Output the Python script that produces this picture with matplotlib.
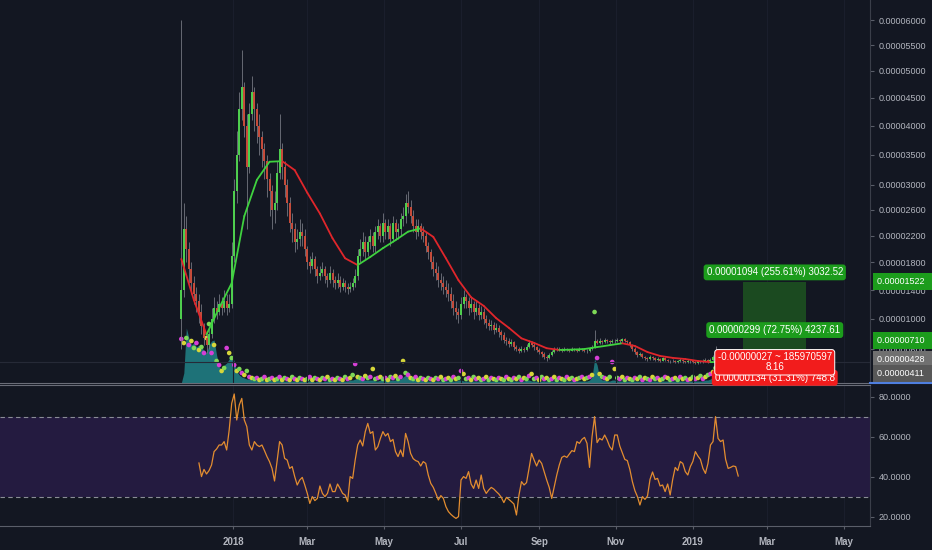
import numpy as np
import pandas as pd
import matplotlib
matplotlib.use('Agg')
import matplotlib.pyplot as plt
import matplotlib.dates as mdates
import matplotlib.transforms as mtransforms
from datetime import datetime

plt.rcParams['font.family'] = ['Liberation Sans', 'DejaVu Sans']

# prices in satoshi (1e-8 BTC), one candle = 2 days
START = '2017-11-21'
first_open = 1000

closes = [
    1400, 2300, 2000, 1700, 1500, 1350, 1250, 1100, 900, 750,
    650, 800, 1000, 1150, 1100, 1200, 1150, 1250, 1150, 1200,
    1900, 2900, 3500, 4300, 4700, 4000, 3300, 4200, 4600, 4300,
    4000, 3800, 3600, 3400, 3100, 2900, 2600, 2700, 3200, 3600,
    3300, 3000, 2700, 2400, 2300, 2100, 2150, 2250, 2200, 2000,
    1800, 1750, 1850, 1700, 1600, 1650, 1700, 1600, 1550, 1650,
    1550, 1500, 1550, 1450, 1500, 1450, 1420, 1450, 1500, 1600,
    1900, 2000, 2100, 1950, 2100, 2200, 2050, 2250, 2350, 2200,
    2400, 2250, 2350, 2150, 2400, 2250, 2300, 2450, 2500, 2700,
    2650, 2500, 2350, 2250, 2350, 2250, 2200, 2050, 1950, 1800,
    1700, 1650, 1550, 1500, 1450, 1400, 1350, 1250, 1150, 1100,
    1050, 1200, 1300, 1250, 1150, 1200, 1100, 1150, 1050, 1100,
    1000, 950, 900, 920, 850, 880, 820, 780, 720, 700,
    660, 690, 620, 600, 580, 600, 590, 620, 680, 650,
    620, 590, 560, 540, 500, 480, 520, 560, 590, 600,
    590, 580, 600, 590, 580, 600, 590, 580, 600, 590,
    580, 570, 600, 620, 700, 680, 700, 690, 720, 700,
    690, 710, 700, 720, 700, 730, 710, 690, 650, 600,
    560, 520, 540, 500, 480, 470, 500, 480, 460, 470,
    450, 480, 460, 450, 440, 450, 430, 440, 460, 440,
    430, 450, 440, 430, 420, 440, 430, 450, 460, 440,
    460, 490, 560, 540, 500, 470, 450, 440, 430, 440,
    430, 428,
]

highs = [
    6000, 2700, 2500, 2100, 1800, 1600, 1450, 1350, 1200, 950,
    800, 900, 1150, 1300, 1250, 1350, 1300, 1400, 1350, 1350,
    2100, 3100, 3900, 4600, 5400, 4800, 4200, 4400, 4900, 4700,
    4400, 4200, 3900, 3700, 3500, 3200, 3000, 2900, 3400, 4200,
    3700, 3400, 3100, 2800, 2550, 2400, 2300, 2450, 2400, 2300,
    2050, 1900, 1950, 1900, 1750, 1750, 1800, 1750, 1650, 1750,
    1700, 1600, 1650, 1600, 1580, 1550, 1500, 1520, 1580, 1700,
    2000, 2150, 2250, 2200, 2200, 2300, 2250, 2350, 2450, 2400,
    2550, 2450, 2450, 2400, 2500, 2450, 2400, 2550, 2650, 2850,
    2900, 2750, 2600, 2450, 2450, 2400, 2350, 2250, 2100, 2000,
    1900, 1800, 1750, 1650, 1600, 1550, 1500, 1450, 1350, 1250,
    1150, 1300, 1400, 1350, 1300, 1300, 1250, 1250, 1200, 1180,
    1150, 1050, 1000, 980, 960, 940, 920, 850, 820, 760,
    740, 730, 710, 650, 630, 640, 630, 660, 720, 700,
    680, 640, 610, 580, 560, 520, 550, 590, 620, 630,
    620, 610, 620, 615, 605, 620, 615, 600, 620, 615,
    600, 595, 620, 650, 850, 730, 740, 720, 750, 735,
    720, 730, 725, 740, 735, 750, 740, 720, 700, 660,
    620, 570, 560, 550, 510, 500, 520, 510, 490, 490,
    480, 500, 490, 470, 460, 470, 455, 460, 480, 470,
    450, 465, 460, 450, 440, 455, 450, 470, 480, 470,
    480, 520, 640, 580, 550, 510, 480, 460, 450, 455,
    450, 445,
]

lows = [
    600, 1300, 1800, 1500, 1350, 1200, 1100, 950, 800, 650,
    550, 600, 750, 950, 1000, 1050, 1050, 1100, 1050, 1100,
    1150, 1800, 2700, 3400, 4100, 3800, 2300, 3200, 4100, 3900,
    3700, 3500, 3300, 3100, 2800, 2500, 2300, 2400, 2600, 3100,
    3100, 2800, 2500, 2250, 2100, 1950, 2000, 2050, 2050, 1900,
    1700, 1650, 1700, 1600, 1500, 1550, 1600, 1500, 1450, 1500,
    1450, 1420, 1430, 1380, 1400, 1380, 1350, 1370, 1400, 1450,
    1550, 1800, 1900, 1850, 1900, 2000, 1950, 1950, 2150, 2100,
    2100, 2150, 2150, 2050, 2100, 2150, 2150, 2200, 2350, 2400,
    2550, 2400, 2250, 2150, 2200, 2150, 2100, 1950, 1850, 1700,
    1600, 1550, 1450, 1400, 1350, 1300, 1250, 1150, 1050, 1000,
    950, 1000, 1150, 1150, 1050, 1100, 1000, 1050, 980, 1000,
    930, 880, 850, 850, 800, 820, 760, 720, 680, 650,
    620, 640, 590, 570, 550, 560, 560, 580, 610, 620,
    590, 560, 530, 500, 470, 450, 470, 510, 550, 570,
    570, 560, 570, 570, 560, 570, 570, 560, 570, 570,
    560, 550, 560, 590, 610, 660, 670, 670, 680, 680,
    670, 680, 680, 690, 680, 690, 690, 670, 630, 580,
    540, 500, 510, 480, 460, 450, 460, 460, 440, 450,
    430, 440, 445, 430, 425, 430, 415, 420, 430, 425,
    415, 420, 425, 415, 405, 410, 415, 420, 435, 425,
    430, 450, 480, 510, 480, 455, 435, 425, 415, 420,
    415, 410,
]

# moving average, read every 5th candle
ma_vals = [
    1850, 1260, 790, 1150, 1500, 2500, 3080, 3380, 3390, 3240,
    2870, 2540, 2160, 1860, 1760, 1880, 2010, 2130, 2260, 2310,
    2180, 1860, 1540, 1300, 1180, 1010, 880, 740, 680, 610,
    588, 592, 600, 625, 650, 675, 640, 560, 510, 485,
    470, 445, 430, 435, 438,
]

# RSI, starts at the 8th candle
rsi = [
    47, 40.2, 43.8, 41.5, 43.2, 46, 52.7, 54, 56, 56,
    57.7, 53.5, 63.5, 76.8, 81.5, 68.5, 76, 79.3, 68.5, 65.2,
    56, 53.5, 57.7, 56, 55.2, 56, 53.2, 50.2, 47.7, 44.3,
    38, 48, 57.7, 56, 49.3, 48.5, 44.3, 45.2, 40.2, 36,
    38.5, 39.8, 36, 31.8, 26.8, 30.2, 28.2, 29.3, 35.5, 31.8,
    30.2, 31.8, 36.5, 32.7, 32.7, 36.5, 34.3, 31.8, 31, 27.7,
    40.2, 39.3, 48.5, 56, 58.5, 55.5, 62.7, 66.8, 61.8, 62.7,
    53.5, 55.2, 59.3, 62.7, 60.5, 61.8, 57.7, 58.8, 52.7, 50.2,
    53.5, 50.2, 61.8, 57.7, 51.8, 49.2, 48.2, 47.7, 45.5, 47.7,
    46.8, 41, 36.8, 34.8, 31.8, 28.5, 30.7, 29.3, 25.2, 22.7,
    21.3, 20.2, 19.3, 20.2, 38.5, 40.2, 39.3, 42.7, 36.5, 34.3,
    38.5, 34.3, 41, 34.3, 31.8, 33.5, 34.8, 34, 32.7, 31.5,
    29.8, 27.2, 29.8, 28.8, 27.7, 26.5, 21, 31, 37.7, 36,
    37.2, 44.3, 51.8, 48.5, 45.5, 48.5, 46.8, 42.7, 38.5, 34.8,
    29.3, 35.2, 41, 46, 49.8, 50.5, 49.8, 51.5, 53.2, 52.7,
    57.7, 56.8, 58.8, 59.8, 56.8, 44.8, 60.2, 70.2, 57.2, 59.3,
    58.5, 61, 58.5, 55.2, 53.5, 61, 61, 55.5, 52.2, 48.8,
    48.2, 43.8, 37.7, 33.2, 30.2, 26, 30.2, 28.8, 30.5, 38.8,
    42.5, 38.8, 39.3, 35.5, 36, 32.7, 36.5, 31, 38.8, 44.8,
    43.2, 47.7, 46.8, 42.7, 41, 45.2, 47.8, 52.7, 50.5, 48.8,
    44.3, 41.8, 46.8, 56, 57.7, 70.2, 59.3, 57.7, 58.5, 48.8,
    44.3, 44.8, 45.5, 45.2, 40.5,
]

volume = [
    0, 10, 55, 45, 38, 40, 36, 38, 35, 33,
    30, 38, 42, 43, 28, 16, 14, 18, 20, 24,
    27, 22, 12, 8, 6, 5, 4, 4, 3, 3,
    3, 2, 3, 2, 2, 3, 2, 2, 3, 3,
    2, 2, 2, 2, 2, 2, 2, 2, 2, 2,
    2, 2, 2, 1, 2, 2, 1, 2, 2, 2,
    2, 2, 2, 2, 2, 2, 2, 3, 3, 4,
    5, 4, 3, 3, 3, 3, 3, 2, 2, 3,
    3, 3, 2, 3, 3, 3, 3, 4, 6, 8,
    12, 6, 4, 3, 3, 3, 2, 2, 2, 2,
    2, 2, 2, 2, 2, 2, 2, 2, 2, 2,
    3, 3, 2, 2, 2, 2, 2, 2, 2, 2,
    2, 2, 2, 2, 2, 2, 2, 2, 2, 2,
    2, 2, 2, 2, 2, 2, 2, 3, 3, 2,
    2, 2, 2, 2, 2, 2, 2, 2, 2, 2,
    2, 2, 2, 2, 2, 2, 2, 2, 2, 2,
    2, 2, 3, 6, 24, 18, 5, 3, 3, 2,
    2, 3, 3, 2, 2, 2, 2, 2, 2, 2,
    2, 2, 2, 2, 2, 2, 2, 2, 2, 2,
    2, 2, 2, 2, 2, 2, 2, 2, 2, 2,
    2, 2, 2, 2, 2, 2, 2, 2, 3, 3,
    4, 6, 12, 8, 5, 4, 3, 3, 3, 3,
    3, 3,
]

dots = [
    44, 40, 45, 38, 42, 35, 40, 33, 36, 30,
    45, 59, 30, 38, 22, 18, 12, 15, 35, 30,
    25, 18, 12, 14, 10, 8, 12, 6, 5, 4,
    5, 3, 4, 6, 3, 4, 5, 3, 4, 6,
    3, 5, 4, 3, 6, 4, 3, 5, 4, 3,
    4, 6, 3, 5, 4, 3, 5, 4, 6, 3,
    4, 3, 5, 4, 3, 6, 4, 5, 8, 19,
    6, 5, 4, 7, 5, 6, 14, 4, 5, 6,
    4, 5, 3, 6, 5, 7, 4, 6, 22, 10,
    8, 5, 4, 6, 3, 5, 4, 3, 5, 4,
    3, 5, 4, 6, 3, 4, 5, 3, 6, 4,
    5, 12, 9, 4, 5, 3, 6, 4, 5, 3,
    4, 6, 3, 5, 4, 3, 5, 4, 3, 6,
    4, 3, 5, 4, 6, 3, 5, 4, 7, 9,
    4, 5, 3, 6, 4, 5, 3, 4, 6, 3,
    5, 4, 3, 6, 4, 5, 3, 4, 5, 6,
    4, 5, 6, 8, 71, 25, 9, 6, 5, 4,
    6, 21, 14, 5, 4, 6, 3, 5, 4, 3,
    5, 4, 6, 3, 5, 4, 3, 6, 4, 5,
    3, 4, 6, 5, 3, 4, 5, 3, 6, 4,
    5, 3, 4, 6, 4, 5, 7, 4, 6, 8,
    9, 11, 15, 12, 8, 6, 5, 4, 6, 5,
    4, 5,
]

price_ticks = [6000, 5500, 5000, 4500, 4000, 3500, 3000, 2600, 2200, 1800, 1400, 1000, 600]
rsi_ticks = [20, 40, 60, 80]
date_ticks = ['2018-01-01', '2018-03-01', '2018-05-01', '2018-07-01', '2018-09-01',
              '2018-11-01', '2019-01-01', '2019-03-01', '2019-05-01']
date_labels = ['2018', 'Mar', 'May', 'Jul', 'Sep', 'Nov', '2019', 'Mar', 'May']

# position tools
pos_start, pos_end = '2019-02-10', '2019-04-01'
entry_a, target_a, stop_a = 428, 1522, 294
entry_b, target_b = 411, 710

BG = '#131722'
TXT = '#b2b5be'
LINE = '#5a5e69'
UP = '#4fd24f'
DOWN = '#c94c3a'


def fwd(v):
    return np.log(np.asarray(v, dtype=float) + 9141)


def inv(u):
    return np.exp(u) - 9141


dates = pd.date_range(START, periods=len(closes), freq='2D')
x = mdates.date2num(dates)
opens = [first_open] + closes[:-1]
base = mdates.date2num(datetime(2018, 1, 1))

fig = plt.figure(figsize=(9.32, 5.5), dpi=100, facecolor=BG)
main_rect = [0, 1 - 383 / 550, 870 / 932, 383 / 550]
axv = fig.add_axes(main_rect)
ax = fig.add_axes(main_rect, sharex=axv)
ar = fig.add_axes([0, 24 / 550, 870 / 932, 141 / 550], sharex=axv)
axv.set_zorder(0)
ax.set_zorder(1)
ax.patch.set_visible(False)
axv.set_facecolor(BG)
axv.axis('off')

ax.set_xlim(base - 184.9, base + 505.6)

# volume area + dots
axv.fill_between(x, 0, volume, color='#1f787d', alpha=0.95, lw=0)
dot_cols = ['#d63fd6', '#d6d63a', '#7ed957']
axv.scatter(x, dots, s=11, c=[dot_cols[i % 3] for i in range(len(dots))], lw=0, zorder=3)
axv.set_ylim(0, 383)

# candles
ax.set_yscale('function', functions=(fwd, inv))
ax.set_ylim(166, 6412)
ax.axhline(closes[-1], color='#262a37', lw=0.8, zorder=1)
cols = [UP if c >= o else DOWN for o, c in zip(opens, closes)]
ax.vlines(x, lows, highs, color='#7c7f88', lw=0.55, zorder=2)
ax.vlines(x, opens, closes, color=cols, lw=1.4, zorder=3)

# moving average, green rising / red falling
ma_x = x[::5]
for i in range(len(ma_vals) - 1):
    c = '#3fd23f' if ma_vals[i + 1] >= ma_vals[i] else '#e0262b'
    ax.plot(ma_x[i:i + 2], ma_vals[i:i + 2], color=c, lw=1.3, zorder=4,
            solid_capstyle='round')

# long position boxes
p0, p1 = mdates.date2num(pd.Timestamp(pos_start)), mdates.date2num(pd.Timestamp(pos_end))
ax.fill_between([p0, p1], entry_a, target_a, color='#1b4a20', lw=0, zorder=1)
ax.fill_between([p0, p1], stop_a, entry_a, color='#4a1d24', lw=0, zorder=1)
pm = (p0 + p1) / 2

green = '#1c9c1c'
red = '#f21c1c'
ax.annotate('0.00001094 (255.61%) 3032.52', xy=(pm, target_a), xytext=(0, 3),
            textcoords='offset points', ha='center', va='bottom', fontsize=7, color='white',
            bbox=dict(boxstyle='round,pad=0.3', fc=green, ec='none'), zorder=8)
ax.annotate('0.00000299 (72.75%) 4237.61', xy=(pm, target_b), xytext=(0, 4),
            textcoords='offset points', ha='center', va='bottom', fontsize=7, color='white',
            bbox=dict(boxstyle='round,pad=0.3', fc=green, ec='none'), zorder=8)
ax.annotate('0.00000134 (31.31%) 748.8', xy=(pm, stop_a), xytext=(0, 0),
            textcoords='offset points', ha='center', va='top', fontsize=7, color='white',
            bbox=dict(boxstyle='round,pad=0.3', fc=red, ec='none'), zorder=8)
ax.annotate('-0.00000027 ~ 185970597\n8.16', xy=(pm, entry_a), xytext=(0, 0),
            textcoords='offset points', ha='center', va='center', fontsize=7, color='white',
            linespacing=0.95, multialignment='center',
            bbox=dict(boxstyle='round,pad=0.3', fc=red, ec='white', lw=0.7), zorder=9)

# price axis
ax.yaxis.tick_right()
ax.set_yticks(price_ticks)
ax.set_yticklabels([f'{v * 1e-8:.8f}' for v in price_ticks])
ax.yaxis.set_minor_locator(matplotlib.ticker.NullLocator())
ax.tick_params(axis='y', colors=LINE, labelcolor=TXT, labelsize=6.5, length=3, pad=3)
ax.tick_params(axis='x', which='both', bottom=False, labelbottom=False)
for s in ['left', 'top']:
    ax.spines[s].set_visible(False)
ax.spines['right'].set_color('#3a3e49')
ax.spines['bottom'].set_color('#6a6d78')

trans = mtransforms.blended_transform_factory(ax.transAxes, ax.transData)
axis_labels = [(target_a, green, 0), (target_b, green, 0), (entry_a, '#707070', 2), (entry_b, '#585858', -7)]
for val, fc, dy in axis_labels:
    ax.annotate(f'{val * 1e-8:.8f}  ', xy=(1, val), xycoords=trans, xytext=(5, dy),
                textcoords='offset points', ha='left', va='center', fontsize=6.5, color='white',
                bbox=dict(boxstyle='square,pad=0.45', fc=fc, ec='none'),
                annotation_clip=False, zorder=10)

# RSI panel
ar.set_facecolor(BG)
ar.axhspan(30, 70, color='#241b40', lw=0)
for lvl in [70, 30]:
    ar.axhline(lvl, color='#8a8d96', lw=0.8, dashes=(4, 3))
ar.plot(x[7:7 + len(rsi)], rsi, color='#e38d30', lw=0.9)
ar.set_ylim(15.5, 86)
ar.yaxis.tick_right()
ar.set_yticks(rsi_ticks)
ar.set_yticklabels([f'{v:.4f}' for v in rsi_ticks])
ar.tick_params(axis='y', colors=LINE, labelcolor=TXT, labelsize=6.5, length=3, pad=3)
ar.set_xticks(mdates.date2num(pd.to_datetime(date_ticks)))
ar.set_xticklabels(date_labels)
ar.tick_params(axis='x', colors=LINE, labelcolor=TXT, labelsize=7, length=2, pad=6)
for lab in ar.get_xticklabels():
    lab.set_fontweight('bold')
ar.spines['left'].set_visible(False)
ar.spines['top'].set_color('#6a6d78')
ar.spines['bottom'].set_color(LINE)
ar.spines['right'].set_color('#3a3e49')

for a in (ax, ar):
    a.grid(True, axis='x', color='#1a1e2c', lw=0.8)
    a.set_axisbelow(True)

fig.add_artist(plt.Line2D([870 / 932, 1], [1 - 383 / 550] * 2, color='#4f7fe0', lw=1.5,
                          transform=fig.transFigure))

plt.savefig('out.png', dpi=100, facecolor=BG)
